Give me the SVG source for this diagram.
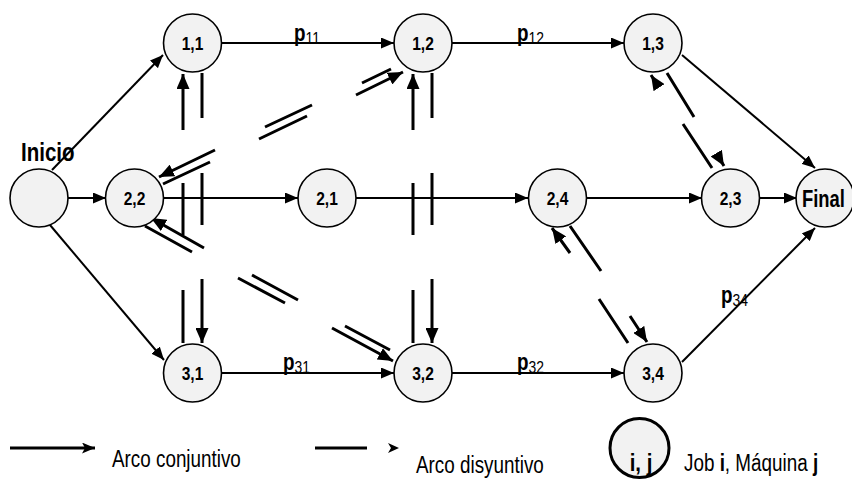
<svg xmlns="http://www.w3.org/2000/svg" width="852" height="479" viewBox="0 0 852 479">
<style>
text{font-family:"Liberation Sans",Arial,sans-serif;fill:#000}
.n{fill:#f2f2f2;stroke:#000;stroke-width:1.6}
.lb{font-weight:bold;font-size:19px;text-anchor:middle}
.big{font-weight:bold}
.p{font-weight:bold;font-size:23px}
.sub{font-weight:normal;font-size:17px}
.lg{font-size:23px}
.c{fill:none;stroke:#000;stroke-width:2;marker-end:url(#a)}
.d{fill:none;stroke:#000;stroke-width:3;marker-end:url(#ad)}
</style>
<defs>
<marker id="a" markerUnits="userSpaceOnUse" markerWidth="13" markerHeight="11" refX="13" refY="5.5" orient="auto"><path d="M0,0 L13,5.5 L0,11 z" fill="#000"/></marker>
<marker id="ad" markerUnits="userSpaceOnUse" markerWidth="15" markerHeight="13" refX="15" refY="6.5" orient="auto"><path d="M0,0 L15,6.5 L0,13 z" fill="#000"/></marker>
<marker id="al" markerUnits="userSpaceOnUse" markerWidth="13" markerHeight="11" refX="13" refY="5.5" orient="auto"><path d="M0,0 L13,5.5 L0,11 L3,5.5 z" fill="#000"/></marker>
</defs>
<g id="connectors">
<path class="c" d="M52,170 L163,55"/>
<path class="c" d="M68,198 L106,198"/>
<path class="c" d="M50,225 L164,360"/>
<path class="c" d="M222,43 L394,43"/>
<path class="c" d="M452,43 L624,43"/>
<path class="c" d="M682,55 L815,168"/>
<path class="c" d="M163,198 L298,198"/>
<path class="c" d="M356,198 L528,198"/>
<path class="c" d="M587,198 L702,198"/>
<path class="c" d="M759,198 L797,198"/>
<path class="c" d="M222,373 L394,373"/>
<path class="c" d="M452,373 L624,373"/>
<path class="c" d="M682,362 L815,228"/>
<path class="d" d="M183,343 L183,290 M183,235 L183,183 M183,130 L183,74"/>
<path class="d" d="M202,73 L202,118 M202,173 L202,225 M202,279 L202,343"/>
<path class="d" d="M413,343 L413,290 M413,235 L413,183 M413,130 L413,74"/>
<path class="d" d="M432,73 L432,118 M432,173 L432,225 M432,279 L432,343"/>
<path class="d" d="M163,184 L210,162 M259,139 L307,116 M356,95 L403,72"/>
<path class="d" d="M391,69 L362,83 M312,105 L265,127 M215,150 L159,177"/>
<path class="d" d="M145,226 L192,252 M238,278 L285,303 M332,328 L393,361"/>
<path class="d" d="M390,350 L345,326 M298,300 L252,275 M204,248 L151,218"/>
<path class="d" d="M667,73 L694,117 M718,156 L724,166"/>
<path class="d" d="M712,168 L683,124 M658,86 L651,75"/>
<path class="d" d="M570,226 L601,271 M630,316 L647,342"/>
<path class="d" d="M628,343 L599,299 M570,253 L552,228"/>
</g>
<g id="edge-labels">
<text class="p" transform="translate(294,41) scale(0.82,1)">p<tspan class="sub" dy="3">11</tspan></text>
<text class="p" transform="translate(517,41) scale(0.82,1)">p<tspan class="sub" dy="3">12</tspan></text>
<text class="p" transform="translate(283,370) scale(0.82,1)">p<tspan class="sub" dy="3">31</tspan></text>
<text class="p" transform="translate(517,370) scale(0.82,1)">p<tspan class="sub" dy="3">32</tspan></text>
<text class="p" transform="translate(721,303) scale(0.82,1)">p<tspan class="sub" dy="3">34</tspan></text>
</g>
<g id="n-inicio"><circle class="n" cx="39" cy="198" r="29"/><text class="big" font-size="25" transform="translate(21,161) scale(0.82,1)">Inicio</text></g>
<g id="n-11"><circle class="n" cx="192.5" cy="43" r="29"/><text class="lb" transform="translate(192.5,50) scale(0.82,1)">1,1</text></g>
<g id="n-12"><circle class="n" cx="423" cy="43" r="29"/><text class="lb" transform="translate(423,50) scale(0.82,1)">1,2</text></g>
<g id="n-13"><circle class="n" cx="653" cy="43" r="29"/><text class="lb" transform="translate(653,50) scale(0.82,1)">1,3</text></g>
<g id="n-22"><circle class="n" cx="134.5" cy="198" r="29"/><text class="lb" transform="translate(134.5,205) scale(0.82,1)">2,2</text></g>
<g id="n-21"><circle class="n" cx="327" cy="198" r="29"/><text class="lb" transform="translate(327,205) scale(0.82,1)">2,1</text></g>
<g id="n-24"><circle class="n" cx="557.5" cy="198" r="29"/><text class="lb" transform="translate(557.5,205) scale(0.82,1)">2,4</text></g>
<g id="n-23"><circle class="n" cx="730.5" cy="198" r="29"/><text class="lb" transform="translate(730.5,205) scale(0.82,1)">2,3</text></g>
<g id="n-final"><circle class="n" cx="825" cy="198" r="29"/><text class="big" font-size="23" transform="translate(802,207) scale(0.8,1)">Final</text></g>
<g id="n-31"><circle class="n" cx="192.5" cy="373" r="29"/><text class="lb" transform="translate(192.5,380) scale(0.82,1)">3,1</text></g>
<g id="n-32"><circle class="n" cx="423" cy="373" r="29"/><text class="lb" transform="translate(423,380) scale(0.82,1)">3,2</text></g>
<g id="n-34"><circle class="n" cx="653" cy="373" r="29"/><text class="lb" transform="translate(653,380) scale(0.82,1)">3,4</text></g>
<g id="legend">
<path d="M10,448 L95,448" fill="none" stroke="#000" stroke-width="3" marker-end="url(#al)"/>
<text class="lg" transform="translate(112,467) scale(0.82,1)">Arco conjuntivo</text>
<path d="M315,448 L367,448" fill="none" stroke="#000" stroke-width="3"/>
<polygon points="388,443 399,448 388,453 391,448" fill="#000"/>
<text class="lg" transform="translate(416,473) scale(0.82,1)">Arco disyuntivo</text>
<circle cx="639.5" cy="448" r="29.5" fill="#f2f2f2" stroke="#000" stroke-width="3"/>
<text class="big" font-size="24" text-anchor="middle" transform="translate(641,471) scale(0.85,1)">i, j</text>
<text class="lg" transform="translate(684,471) scale(0.82,1)">Job <tspan font-weight="bold">i</tspan>, Máquina <tspan font-weight="bold">j</tspan></text>
</g>
</svg>
